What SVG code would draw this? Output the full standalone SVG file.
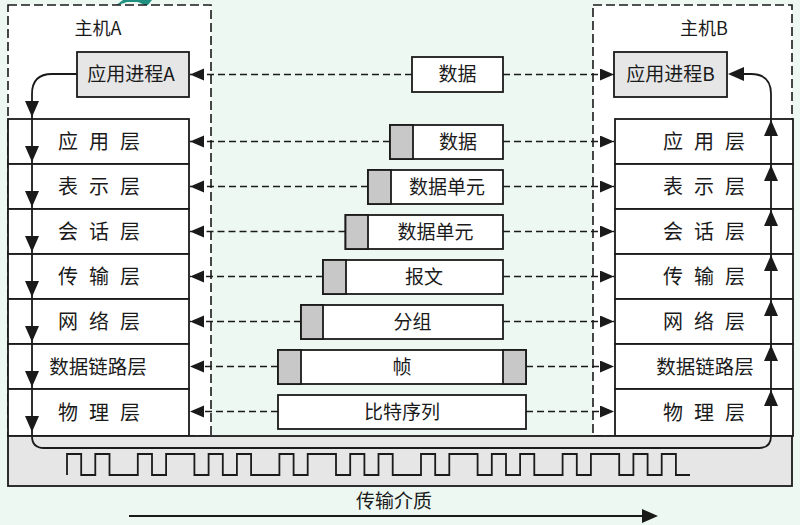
<svg xmlns="http://www.w3.org/2000/svg" width="800" height="525" viewBox="0 0 800 525">
  <style>
    text { font-family: "Noto Sans CJK SC", "Noto Sans", sans-serif; fill: #1a1a1a; }
    .layer { font-size: 20px; text-anchor: middle; }
    .pdu { font-size: 19px; text-anchor: middle; }
    .title { font-size: 18px; text-anchor: middle; }
    .host { fill: #ffffff; stroke: #1a1a1a; stroke-width: 1.6; stroke-dasharray: 9 4; }
    .cell { fill: #ffffff; stroke: #1a1a1a; stroke-width: 1.8; }
    .proc { fill: #e6e6e6; stroke: #1a1a1a; stroke-width: 1.8; }
    .hdr { fill: #c8c8c8; stroke: #1a1a1a; stroke-width: 1.8; }
    .dash { stroke: #1a1a1a; stroke-width: 1.6; stroke-dasharray: 7 4; fill: none; marker-end: url(#tip); }
    .flow { stroke: #1a1a1a; stroke-width: 1.8; fill: none; }
    .head { fill: #1a1a1a; }
  </style>
  <defs>
    <marker id="tip" markerUnits="userSpaceOnUse" markerWidth="15" markerHeight="13" refX="14" refY="6" orient="auto">
      <path d="M0,0 L14,6 L0,12 Z" fill="#1a1a1a" stroke="none"/>
    </marker>
    <path id="down" d="M-7,-16 L7,-16 L0,0 Z"/>
    <path id="up" d="M-7,16 L7,16 L0,0 Z"/>
  </defs>

  <rect width="800" height="525" fill="#edf8f2"/>
  <path d="M115,6 L123,0 L152,0 L147,6 L138,2 L127,2 Z" fill="#1f8f80"/>

  <!-- host A -->
  <g id="hostA">
    <rect class="host" x="8" y="5" width="203" height="431"/>
    <text class="title" x="98" y="35">主机A</text>
  </g>
  <!-- host B -->
  <g id="hostB">
    <rect class="host" x="593" y="5" width="199" height="431"/>
    <text class="title" x="704" y="35">主机B</text>
  </g>

  <!-- application processes -->
  <g id="procA">
    <rect class="proc" x="77" y="52" width="112" height="45"/>
    <text class="pdu" x="131" y="81">应用进程A</text>
  </g>
  <g id="procB">
    <rect class="proc" x="614" y="52" width="113" height="45"/>
    <text class="pdu" x="670.5" y="81">应用进程B</text>
  </g>

  <!-- layer stack A -->
  <g id="stackA">
    <rect class="cell" x="8" y="119" width="181" height="45"/>
    <rect class="cell" x="8" y="164" width="181" height="45"/>
    <rect class="cell" x="8" y="209" width="181" height="45"/>
    <rect class="cell" x="8" y="254" width="181" height="45"/>
    <rect class="cell" x="8" y="299" width="181" height="45"/>
    <rect class="cell" x="8" y="344" width="181" height="45"/>
    <rect class="cell" x="8" y="389" width="181" height="47"/>
    <text class="layer" x="68 99 130" y="149">应用层</text>
    <text class="layer" x="68 99 130" y="194">表示层</text>
    <text class="layer" x="68 99 130" y="239">会话层</text>
    <text class="layer" x="68 99 130" y="284">传输层</text>
    <text class="layer" x="68 99 130" y="329">网络层</text>
    <text class="layer" x="98" y="374" style="font-size:19.5px">数据链路层</text>
    <text class="layer" x="68 99 130" y="420">物理层</text>
  </g>

  <!-- layer stack B -->
  <g id="stackB">
    <rect class="cell" x="615" y="119" width="178" height="45"/>
    <rect class="cell" x="615" y="164" width="178" height="45"/>
    <rect class="cell" x="615" y="209" width="178" height="45"/>
    <rect class="cell" x="615" y="254" width="178" height="45"/>
    <rect class="cell" x="615" y="299" width="178" height="45"/>
    <rect class="cell" x="615" y="344" width="178" height="45"/>
    <rect class="cell" x="615" y="389" width="178" height="47"/>
    <text class="layer" x="673 704 735" y="149">应用层</text>
    <text class="layer" x="673 704 735" y="194">表示层</text>
    <text class="layer" x="673 704 735" y="239">会话层</text>
    <text class="layer" x="673 704 735" y="284">传输层</text>
    <text class="layer" x="673 704 735" y="329">网络层</text>
    <text class="layer" x="705" y="374" style="font-size:19.5px">数据链路层</text>
    <text class="layer" x="673 704 735" y="420">物理层</text>
  </g>

  <!-- transmission medium -->
  <g id="medium">
    <rect class="proc" x="8" y="436" width="784" height="50"/>
    <path class="flow" d="M67,475 V454 H81.2 V475 H95.3 V454 H109.5 V475 H137.8 V454 H152 V475 H166.1 V454 H194.4 V475 H208.6 V454 H222.8 V475 H236.9 V454 H251.1 V475 H279.4 V454 H293.6 V475 H307.7 V454 H336 V475 H350.2 V454 H364.4 V475 H378.5 V454 H392.7 V475 H421 V454 H435.2 V475 H449.3 V454 H477.6 V475 H491.8 V454 H506 V475 H520.1 V454 H534.3 V475 H562.6 V454 H576.8 V475 H590.9 V454 H619.2 V475 H633.4 V454 H647.6 V475 H661.7 V454 H675.9 V475 H690"/>
    <text class="pdu" x="394" y="508">传输介质</text>
  </g>

  <!-- protocol data units -->
  <g id="pdu0">
    <rect class="cell" x="412" y="57" width="91" height="35"/>
    <text class="pdu" x="457.5" y="81">数据</text>
  </g>
  <g id="pdu1">
    <rect class="cell" x="390" y="125" width="113" height="34"/>
    <rect class="hdr" x="390" y="125" width="23" height="34"/>
    <text class="pdu" x="458" y="149">数据</text>
  </g>
  <g id="pdu2">
    <rect class="cell" x="368" y="170" width="135" height="34"/>
    <rect class="hdr" x="368" y="170" width="23" height="34"/>
    <text class="pdu" x="447" y="194">数据单元</text>
  </g>
  <g id="pdu3">
    <rect class="cell" x="345.5" y="215" width="157.5" height="34"/>
    <rect class="hdr" x="345.5" y="215" width="22.5" height="34"/>
    <text class="pdu" x="435.5" y="239">数据单元</text>
  </g>
  <g id="pdu4">
    <rect class="cell" x="323" y="260" width="180" height="34"/>
    <rect class="hdr" x="323" y="260" width="23" height="34"/>
    <text class="pdu" x="424" y="284">报文</text>
  </g>
  <g id="pdu5">
    <rect class="cell" x="301" y="305" width="202" height="34"/>
    <rect class="hdr" x="301" y="305" width="22" height="34"/>
    <text class="pdu" x="412.5" y="329">分组</text>
  </g>
  <g id="pdu6">
    <rect class="cell" x="278" y="350" width="248" height="34"/>
    <rect class="hdr" x="278" y="350" width="23" height="34"/>
    <rect class="hdr" x="503" y="350" width="23" height="34"/>
    <text class="pdu" x="402" y="374">帧</text>
  </g>
  <g id="pdu7">
    <rect class="cell" x="278" y="395" width="248" height="34"/>
    <text class="pdu" x="402" y="419">比特序列</text>
  </g>

  <!-- connectors -->
  <g id="connectors">
    <line class="dash" x1="412" y1="74.5" x2="190" y2="74.5"/>
    <line class="dash" x1="503" y1="74.5" x2="614" y2="74.5"/>
    <line class="dash" x1="390" y1="141.5" x2="190" y2="141.5"/>
    <line class="dash" x1="503" y1="141.5" x2="614" y2="141.5"/>
    <line class="dash" x1="368" y1="186.5" x2="190" y2="186.5"/>
    <line class="dash" x1="503" y1="186.5" x2="614" y2="186.5"/>
    <line class="dash" x1="345.5" y1="231.5" x2="190" y2="231.5"/>
    <line class="dash" x1="503" y1="231.5" x2="614" y2="231.5"/>
    <line class="dash" x1="323" y1="276.5" x2="190" y2="276.5"/>
    <line class="dash" x1="503" y1="276.5" x2="614" y2="276.5"/>
    <line class="dash" x1="301" y1="321.5" x2="190" y2="321.5"/>
    <line class="dash" x1="503" y1="321.5" x2="614" y2="321.5"/>
    <line class="dash" x1="278" y1="366.5" x2="190" y2="366.5"/>
    <line class="dash" x1="526" y1="366.5" x2="614" y2="366.5"/>
    <line class="dash" x1="278" y1="411.5" x2="190" y2="411.5"/>
    <line class="dash" x1="526" y1="411.5" x2="614" y2="411.5"/>

    <!-- data path down stack A, across the medium, up stack B -->
    <path class="flow" d="M77,74 H52 Q32,74 32,94 V436 Q32,448 44,448 H759 Q771,448 771,436 V94 Q771,74 751,74 H740"/>
    <use href="#down" class="head" x="32" y="117"/>
    <use href="#down" class="head" x="32" y="162"/>
    <use href="#down" class="head" x="32" y="207"/>
    <use href="#down" class="head" x="32" y="252"/>
    <use href="#down" class="head" x="32" y="297"/>
    <use href="#down" class="head" x="32" y="342"/>
    <use href="#down" class="head" x="32" y="387"/>
    <use href="#down" class="head" x="32" y="432"/>
    <use href="#up" class="head" x="771" y="120"/>
    <use href="#up" class="head" x="771" y="165"/>
    <use href="#up" class="head" x="771" y="210"/>
    <use href="#up" class="head" x="771" y="255"/>
    <use href="#up" class="head" x="771" y="300"/>
    <use href="#up" class="head" x="771" y="345"/>
    <use href="#up" class="head" x="771" y="390"/>
    <path class="head" d="M728,74 L744,67 L744,81 Z"/>

    <!-- direction of transmission -->
    <line class="flow" x1="129" y1="516" x2="644" y2="516"/>
    <path class="head" d="M642,509 L658,516 L642,523 Z"/>
  </g>
</svg>
